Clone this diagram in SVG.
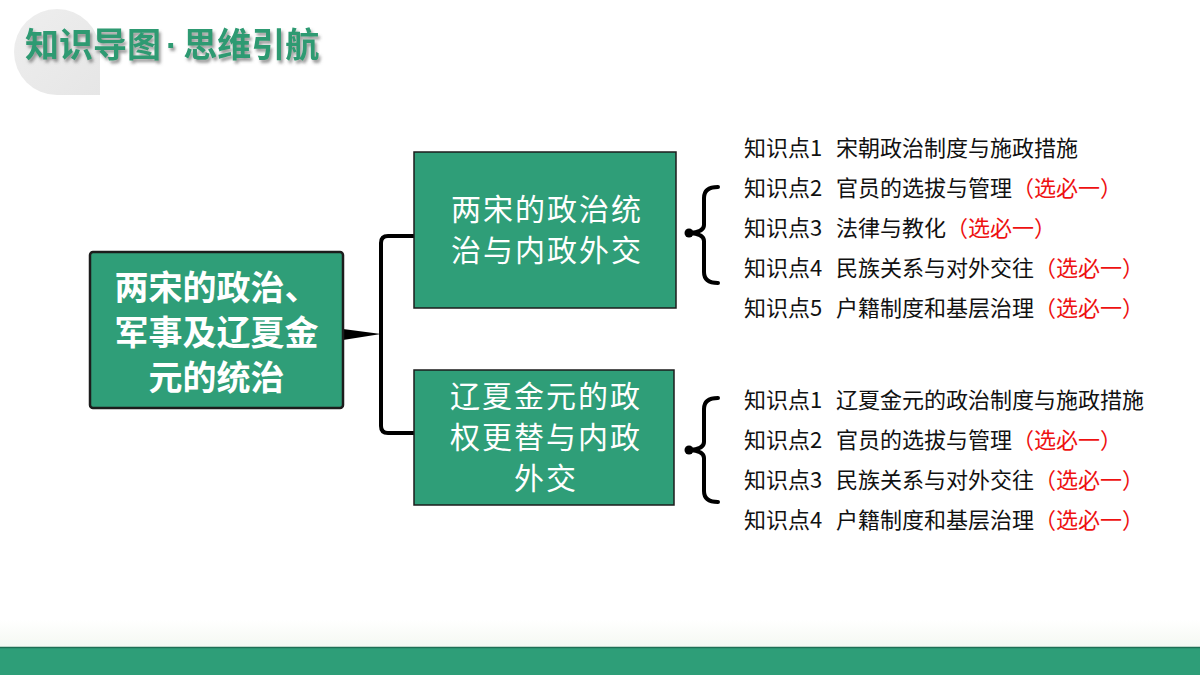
<svg xmlns="http://www.w3.org/2000/svg" width="1200" height="675" viewBox="0 0 1200 675">
  <defs>
    <style>
      .node { fill: #2f9e78; stroke: #1c1c1c; }
      .main-text { font-family: "Noto Sans CJK SC", "Noto Sans", sans-serif; font-size: 34px; font-weight: bold; fill: #ffffff; text-anchor: middle; }
      .sub-text { font-family: "Noto Sans CJK SC", "Noto Sans", sans-serif; font-size: 30px; letter-spacing: 2px; fill: #ffffff; text-anchor: middle; }
      .item { font-family: "Noto Sans CJK SC", "Noto Sans", sans-serif; font-size: 22px; fill: #111111; }
      .red { fill: #ee1111; }
      .wire { fill: none; stroke: #000000; stroke-width: 4; stroke-linecap: round; stroke-linejoin: round; }
      .title { font-family: "Noto Sans CJK SC", "Noto Sans", sans-serif; font-size: 34px; font-weight: bold; fill: #2e9a72; }
    </style>
    <filter id="shadow" x="-10%" y="-30%" width="120%" height="160%">
      <feDropShadow dx="2" dy="3" stdDeviation="1.5" flood-color="#555555" flood-opacity="0.6"/>
    </filter>
    <linearGradient id="fade" x1="0" y1="0" x2="0" y2="1">
      <stop offset="0" stop-color="#ffffff"/>
      <stop offset="1" stop-color="#f5f8f2"/>
    </linearGradient>
    <linearGradient id="blob" x1="0" y1="0" x2="1" y2="1">
      <stop offset="0" stop-color="#eeeeee"/>
      <stop offset="1" stop-color="#e6e6e6"/>
    </linearGradient>
  </defs>

  <rect x="0" y="0" width="1200" height="675" fill="#ffffff"/>

  <!-- header -->
  <g id="header">
    <path d="M100,95 L57,95 A43,43 0 1 1 100,52 Z" fill="url(#blob)"/>
    <text class="title" x="25" y="57" filter="url(#shadow)">知识导图<tspan font-family="Liberation Sans, sans-serif" dx="5">·</tspan><tspan dx="6">思维引航</tspan></text>
  </g>

  <!-- footer -->
  <g id="footer">
    <rect x="0" y="620" width="1200" height="27" fill="url(#fade)"/>
    <rect x="0" y="647" width="1200" height="28" fill="#2e9e78"/>
    <line x1="0" y1="647.5" x2="1200" y2="647.5" stroke="#1f6f55" stroke-width="1.5"/>
  </g>

  <!-- connectors -->
  <g id="connectors">
    <path d="M343,329 L381,334 L343,340 Z" fill="#000000"/>
    <path class="wire" d="M414,236 L388,236 Q381,236 381,243 L381,426 Q381,433 388,433 L414,433"/>
    <path d="M379,270 L381,334 L379,400 L383,400 L381.5,334 L383,270 Z" fill="#000000"/>
    <!-- top brace -->
    <path class="wire" d="M718,187 Q704,187 704,198 L704,225 Q704,232 690,233 Q704,234 704,241 L704,272 Q704,283 718,283"/>
    <circle cx="689" cy="233" r="4.5" fill="#000000"/>
    <!-- bottom brace -->
    <path class="wire" d="M718,398 Q704,398 704,409 L704,442 Q704,449 690,450 Q704,451 704,458 L704,491 Q704,502 718,502"/>
    <circle cx="689" cy="450" r="4.5" fill="#000000"/>
  </g>

  <!-- main node -->
  <g id="node-main">
    <rect class="node" x="90" y="252" width="253" height="156" rx="3" stroke-width="2.5"/>
    <text class="main-text"><tspan x="216.5" y="300">两宋的政治、</tspan><tspan x="216.5" y="345">军事及辽夏金</tspan><tspan x="216.5" y="390">元的统治</tspan></text>
  </g>

  <!-- top sub node -->
  <g id="node-song">
    <rect class="node" x="414" y="152" width="262" height="156" stroke-width="1.5"/>
    <text class="sub-text"><tspan x="547" y="220">两宋的政治统</tspan><tspan x="547" y="261">治与内政外交</tspan></text>
  </g>

  <!-- bottom sub node -->
  <g id="node-liao">
    <rect class="node" x="414" y="370" width="260" height="135" stroke-width="1.5"/>
    <text class="sub-text"><tspan x="546" y="407">辽夏金元的政</tspan><tspan x="546" y="448">权更替与内政</tspan><tspan x="546" y="489">外交</tspan></text>
  </g>

  <!-- top list -->
  <g id="list-song">
    <text class="item" x="744" y="156">知识点1<tspan x="836">宋朝政治制度与施政措施</tspan></text>
    <text class="item" x="744" y="196">知识点2<tspan x="836">官员的选拔与管理</tspan><tspan class="red">（选必一）</tspan></text>
    <text class="item" x="744" y="236">知识点3<tspan x="836">法律与教化</tspan><tspan class="red">（选必一）</tspan></text>
    <text class="item" x="744" y="276">知识点4<tspan x="836">民族关系与对外交往</tspan><tspan class="red">（选必一）</tspan></text>
    <text class="item" x="744" y="316">知识点5<tspan x="836">户籍制度和基层治理</tspan><tspan class="red">（选必一）</tspan></text>
  </g>

  <!-- bottom list -->
  <g id="list-liao">
    <text class="item" x="744" y="408">知识点1<tspan x="836">辽夏金元的政治制度与施政措施</tspan></text>
    <text class="item" x="744" y="448">知识点2<tspan x="836">官员的选拔与管理</tspan><tspan class="red">（选必一）</tspan></text>
    <text class="item" x="744" y="488">知识点3<tspan x="836">民族关系与对外交往</tspan><tspan class="red">（选必一）</tspan></text>
    <text class="item" x="744" y="528">知识点4<tspan x="836">户籍制度和基层治理</tspan><tspan class="red">（选必一）</tspan></text>
  </g>
</svg>
